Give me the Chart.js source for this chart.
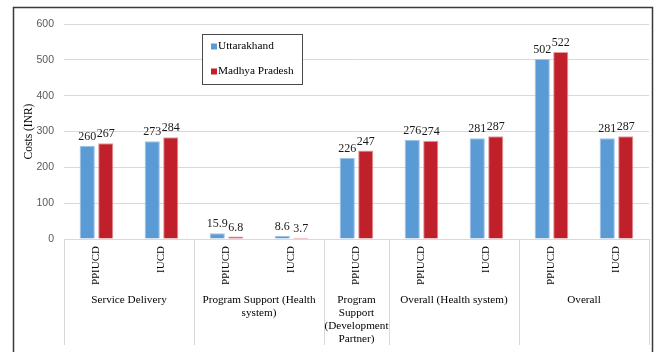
<!DOCTYPE html>
<html>
<head>
<meta charset="utf-8">
<script src="https://cdn.jsdelivr.net/npm/chart.js@4/dist/chart.umd.min.js"></script>
<style>
  html, body { margin: 0; padding: 0; background: #fff; }
  canvas { display: block; }
</style>
</head>
<body>
<canvas id="c" width="659" height="352"></canvas>
<script>
// Categories (IUCD type within each cost component)
const categories = ['PPIUCD', 'IUCD', 'PPIUCD', 'IUCD', 'PPIUCD', 'PPIUCD', 'IUCD', 'PPIUCD', 'IUCD'];

// Cost components, each spanning a run of categories
const groupLabels = [
  ['Service Delivery'],
  ['Program Support (Health', 'system)'],
  ['Program', 'Support', '(Development', 'Partner)'],
  ['Overall (Health system)'],
  ['Overall']
];
const groupSizes = [2, 2, 1, 2, 2];

// Costs in INR per state
const uttarakhand = [260, 273, 15.9, 8.6, 226, 276, 281, 502, 281];
const madhyaPradesh = [267, 284, 6.8, 3.7, 247, 274, 287, 522, 287];

const yTicks = [0, 100, 200, 300, 400, 500, 600];

const SERIF = '"Liberation Serif", "Times New Roman", serif';
const SANS = '"Liberation Sans", Arial, sans-serif';

// White background and the outer frame
const framePlugin = {
  id: 'frame',
  beforeDraw(chart) {
    const ctx = chart.ctx;
    ctx.save();
    ctx.fillStyle = '#fff';
    ctx.fillRect(0, 0, chart.width, chart.height);
    ctx.strokeStyle = '#3a3a3a';
    ctx.lineWidth = 1.5;
    ctx.beginPath();
    ctx.moveTo(13.5, chart.height);
    ctx.lineTo(13.5, 7.5);
    ctx.lineTo(652.5, 7.5);
    ctx.lineTo(652.5, chart.height);
    ctx.stroke();
    ctx.restore();
  }
};

// Value labels above each bar
const valueLabelPlugin = {
  id: 'valueLabels',
  afterDatasetsDraw(chart) {
    const ctx = chart.ctx;
    ctx.save();
    ctx.font = '12px ' + SERIF;
    ctx.fillStyle = '#1a1a1a';
    ctx.textAlign = 'center';
    ctx.textBaseline = 'bottom';
    chart.data.datasets.forEach((ds, di) => {
      const meta = chart.getDatasetMeta(di);
      meta.data.forEach((bar, i) => {
        ctx.fillText(String(ds.data[i]), bar.x, bar.y - 3);
      });
    });
    ctx.restore();
  }
};

// Group labels and separators under the category axis
const groupAxisPlugin = {
  id: 'groupAxis',
  afterDraw(chart) {
    const x = chart.scales.x;
    const ctx = chart.ctx;
    const step = (x.right - x.left) / categories.length;
    const top = chart.chartArea.bottom;
    const bottom = 345;
    ctx.save();
    ctx.strokeStyle = '#d9d9d9';
    ctx.lineWidth = 1;
    let idx = 0;
    const bounds = [x.left];
    groupSizes.forEach(n => { idx += n; bounds.push(x.left + idx * step); });
    bounds.forEach(b => {
      const px = Math.round(b) + 0.5;
      ctx.beginPath();
      ctx.moveTo(px, top);
      ctx.lineTo(px, bottom);
      ctx.stroke();
    });
    ctx.font = '11.2px ' + SERIF;
    ctx.fillStyle = '#000';
    ctx.textAlign = 'center';
    ctx.textBaseline = 'middle';
    groupLabels.forEach((lines, g) => {
      const cx = (bounds[g] + bounds[g + 1]) / 2;
      lines.forEach((t, li) => {
        ctx.fillText(t, cx, 300 + li * 13);
      });
    });
    ctx.restore();
  }
};

// Boxed legend inside the plot
const boxLegendPlugin = {
  id: 'boxLegend',
  afterDraw(chart) {
    const ctx = chart.ctx;
    ctx.save();
    ctx.fillStyle = '#fff';
    ctx.fillRect(203, 34, 100, 50);
    ctx.strokeStyle = '#4a4a4a';
    ctx.lineWidth = 1;
    ctx.strokeRect(202.5, 34.5, 100, 50);
    ctx.font = '11.3px ' + SERIF;
    ctx.textAlign = 'left';
    ctx.textBaseline = 'middle';
    chart.data.datasets.forEach((ds, i) => {
      const cy = 46.5 + i * 25;
      ctx.fillStyle = ds.backgroundColor;
      ctx.fillRect(211, cy - 3, 6, 6);
      ctx.fillStyle = '#000';
      ctx.fillText(ds.label, 218, cy);
    });
    ctx.restore();
  }
};

new Chart(document.getElementById('c'), {
  type: 'bar',
  data: {
    labels: categories,
    datasets: [
      {
        label: 'Uttarakhand',
        data: uttarakhand,
        backgroundColor: '#5b9bd5',
        borderColor: '#9cc3e8',
        borderWidth: 1,
        categoryPercentage: 0.57,
        barPercentage: 0.82
      },
      {
        label: 'Madhya Pradesh',
        data: madhyaPradesh,
        backgroundColor: '#c0202a',
        borderColor: '#e59a9e',
        borderWidth: 1,
        categoryPercentage: 0.57,
        barPercentage: 0.82
      }
    ]
  },
  options: {
    responsive: false,
    animation: false,
    devicePixelRatio: 1,
    layout: { padding: { left: 0, right: 10, top: 24, bottom: 0 } },
    plugins: {
      legend: { display: false },
      tooltip: { enabled: false }
    },
    scales: {
      y: {
        min: 0,
        max: 600,
        afterBuildTicks(scale) { scale.ticks = yTicks.map(v => ({ value: v })); },
        afterFit(scale) { scale.width = 64; },
        ticks: { font: { family: SANS, size: 10.5 }, color: '#595959', padding: 10 },
        grid: { color: '#d9d9d9', drawTicks: false },
        border: { display: false },
        title: {
          display: true,
          text: 'Costs (INR)',
          font: { family: SERIF, size: 11.5 },
          color: '#000',
          padding: { top: 22, bottom: 0 }
        }
      },
      x: {
        afterFit(scale) { scale.height = 113; },
        grid: { display: false, drawTicks: false },
        border: { display: true, color: '#d9d9d9' },
        ticks: {
          minRotation: 90,
          maxRotation: 90,
          autoSkip: false,
          padding: 7,
          font: { family: SERIF, size: 11 },
          color: '#000'
        }
      }
    }
  },
  plugins: [framePlugin, valueLabelPlugin, groupAxisPlugin, boxLegendPlugin]
});
</script>
</body>
</html>
